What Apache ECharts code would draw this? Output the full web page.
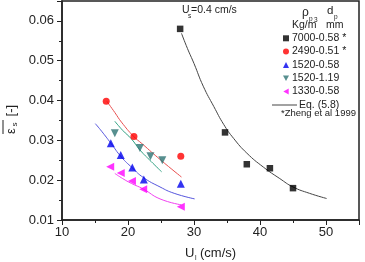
<!DOCTYPE html>
<html>
<head>
<meta charset="utf-8">
<script src="https://cdn.jsdelivr.net/npm/echarts@6/dist/echarts.min.js"></script>
<style>
  html, body { margin: 0; padding: 0; background: #fff; }
  #main { width: 365px; height: 262px; }
</style>
</head>
<body>
<div id="main"></div>
<script>
// measured points, U_l (cm/s) vs eps_s
const u7000 = [27.9, 34.7, 38.0, 41.5, 45.0];
const e7000 = [0.058, 0.032, 0.024, 0.023, 0.018];
const u2490 = [16.7, 20.9, 28.0];
const e2490 = [0.0398, 0.031, 0.026];
const u1520a = [17.4, 18.9, 20.65, 22.4, 28.0];
const e1520a = [0.0293, 0.0263, 0.0232, 0.0202, 0.0191];
const u1520b = [18.0, 21.8, 23.4, 25.2];
const e1520b = [0.0318, 0.0281, 0.026, 0.025];
const u1330 = [17.3, 18.9, 20.6, 22.3, 28.0];
const e1330 = [0.0234, 0.0218, 0.0198, 0.0177, 0.0133];

// Eq. (5.8) curves
const c7000u = [28.1, 29, 30, 31.4, 33, 34.5, 36, 38, 40.5, 43, 45, 47.5, 50.1];
const c7000e = [0.0569, 0.0531, 0.0493, 0.0436, 0.0385, 0.034, 0.0305, 0.0268, 0.0233, 0.0204, 0.0183, 0.0167, 0.0154];
const c2490u = [16.8, 18, 19, 20.85, 22.1, 25, 28.1];
const c2490e = [0.0398, 0.037, 0.0346, 0.031, 0.0292, 0.025, 0.0208];
const c1520au = [15.05, 16, 17.4, 19, 20.65, 22.3, 24.85, 27, 30.1];
const c1520ae = [0.0342, 0.0323, 0.0293, 0.0258, 0.0231, 0.0207, 0.0183, 0.0167, 0.0153];
const c1520bu = [18.0, 19.2, 20.5, 21.8, 23.5, 25.1];
const c1520be = [0.0348, 0.0325, 0.0304, 0.0276, 0.0247, 0.0221];
const c1330u = [18.0, 19.2, 20.5, 22.3, 24.85, 28.1];
const c1330e = [0.0217, 0.0204, 0.0192, 0.0178, 0.0153, 0.0138];

const names = ['7000-0.58 *', '2490-0.51 *', '1520-0.58', '1520-1.19', '1330-0.58'];

function pairs(xs, ys) {
  return xs.map((x, i) => [x, ys[i]]);
}

const Chart = echarts.init(document.getElementById('main'));
const font = 'Liberation Sans, Arial, sans-serif';

function scatter(name, xs, ys, symbol, size, color) {
  return {
    name: name,
    type: 'scatter',
    data: pairs(xs, ys),
    symbol: symbol,
    symbolSize: size,
    itemStyle: { color: color },
    z: 5
  };
}
function curve(name, xs, ys, color) {
  return {
    name: name,
    type: 'line',
    data: pairs(xs, ys),
    smooth: true,
    symbol: 'none',
    lineStyle: { color: color, width: 1 },
    itemStyle: { color: color },
    silent: true,
    z: 3
  };
}

// small helper for the loose text bits
function txt(x, y, s, size, align) {
  return {
    type: 'text', x: x, y: y,
    style: { text: s, fontSize: size, fontFamily: font, fill: '#222', align: align || 'left', verticalAlign: 'middle' }
  };
}

const options = {
  animation: false,
  grid: { left: 62, right: 6, top: 1, bottom: 42, show: true, borderColor: '#222', borderWidth: 1.5 },
  xAxis: {
    type: 'value', min: 10, max: 55, interval: 10,
    axisLine: { lineStyle: { color: '#222', width: 1.5 } },
    axisTick: { length: 5, lineStyle: { color: '#222' } },
    minorTick: { show: true, splitNumber: 2, length: 3, lineStyle: { color: '#222' } },
    splitLine: { show: false },
    axisLabel: {
      fontSize: 13, fontFamily: font, color: '#222', margin: 6,
      formatter: (v) => (v % 10 === 0 ? String(v) : '')
    }
  },
  yAxis: {
    type: 'value', min: 0.01, max: 0.065, interval: 0.01,
    axisLine: { lineStyle: { color: '#222', width: 1.5 } },
    axisTick: { length: 5, lineStyle: { color: '#222' } },
    minorTick: { show: true, splitNumber: 2, length: 3, lineStyle: { color: '#222' } },
    splitLine: { show: false },
    axisLabel: {
      fontSize: 13, fontFamily: font, color: '#222', margin: 8,
      formatter: (v) => (Math.abs(v * 100 - Math.round(v * 100)) < 1e-6 ? v.toFixed(2) : '')
    }
  },
  legend: [
    {
      data: names, orient: 'vertical', left: 278, top: 26.8,
      itemWidth: 6, itemHeight: 6, itemGap: 0.3,
      textStyle: { fontSize: 10.5, fontFamily: font, color: '#222', lineHeight: 13, padding: [0, 0, 0, -2] }
    },
    {
      data: [{ name: 'Eq. (5.8)', icon: 'rect' }], left: 267, top: 93.5,
      itemWidth: 25, itemHeight: 1,
      textStyle: { fontSize: 10.5, fontFamily: font, color: '#222', lineHeight: 13, padding: [0, 0, 0, -3] }
    }
  ],
  series: [
    scatter(names[0], u7000, e7000, 'rect', 6.5, '#000'),
    scatter(names[1], u2490, e2490, 'circle', 7, '#ff0000'),
    scatter(names[2], u1520a, e1520a, 'triangle', 8, '#0000ee'),
    scatter(names[3], u1520b, e1520b, 'path://M0,0L10,0L5,9Z', 8, '#2d7373'),
    scatter(names[4], u1330, e1330, 'path://M0,5L9,0L9,10Z', 8, '#ff00ff'),
    curve('Eq. (5.8)', c7000u, c7000e, '#444'),
    curve('eq2490', c2490u, c2490e, '#e85050'),
    curve('eq1520a', c1520au, c1520ae, '#5555dd'),
    curve('eq1520b', c1520bu, c1520be, '#30a080'),
    curve('eq1330', c1330u, c1330e, '#f040f0')
  ],
  graphic: [
    txt(182, 10, 'U', 10.5),
    txt(188, 16, 's', 6.5),
    txt(191, 10, '=0.4 cm/s', 10.5),
    txt(302, 13, 'ρ', 12),
    txt(309, 19, 'p', 6.5),
    txt(327, 11, 'd', 11.5),
    txt(334, 17, 'p', 6.5),
    txt(292, 25, 'Kg/m', 10.5),
    txt(314, 20, '3', 6.5),
    txt(326, 25, 'mm', 10.5),
    txt(281, 113, '*Zheng et al 1999', 9.5),
    // x axis title
    txt(185, 253, 'U', 13),
    txt(195, 258, 'l', 7),
    txt(200, 253, '(cm/s)', 13),
    // y axis title, rotated
    {
      type: 'group', x: 11, y: 120, rotation: Math.PI / 2,
      children: [
        txt(-14, 0, 'ε', 13),
        txt(-6.5, 4, 's', 8),
        txt(0, 0, ' [-]', 13)
      ]
    },
    { type: 'line', shape: { x1: 3, y1: 120, x2: 3, y2: 134 }, style: { stroke: '#222', lineWidth: 1 } }
  ]
};

Chart.setOption(options);
</script>
</body>
</html>
